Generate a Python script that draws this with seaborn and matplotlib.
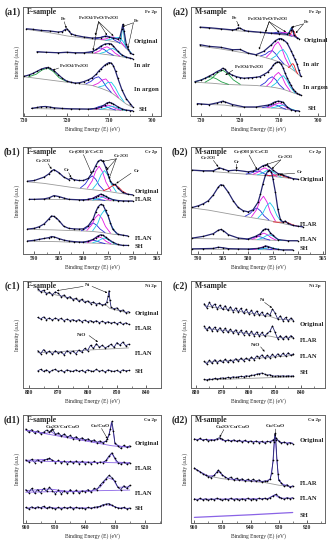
import matplotlib
matplotlib.use("Agg")
import matplotlib.pyplot as plt
import seaborn as sns
from matplotlib.ticker import MultipleLocator

# ------------------------------
# Fe 2p, F-sample (a1)
# ------------------------------
a1_orig_x = [729.5, 728, 726, 724, 722, 721, 720.5, 720, 719.5, 719, 718, 716, 714, 712, 711, 710, 709, 708, 707.5, 707, 706.8, 706.5, 706, 705.5, 705, 704.5]
a1_orig_y = [80, 79.5, 78.5, 78, 77, 77.5, 79, 80, 78, 75.5, 74, 72.5, 71.5, 72, 73, 72.5, 71.5, 70.5, 72, 80, 84, 78, 66, 61, 58, 56.5]
a1_orig_bg_x = [729.5, 725, 722, 720, 717, 714, 712, 710, 708, 707, 706, 705, 704.5]
a1_orig_bg_y = [79.5, 77, 75, 73.5, 72, 70.5, 70, 69, 67.5, 66, 62, 58, 56.5]
a1_orig_pk_x = [[713.5, 712.3, 711.4, 710.5, 709.6, 708.7, 707.5],
                [712, 710.8, 709.9, 709, 708.1, 707.2, 706],
                [710.8, 709.6, 708.7, 707.8, 706.9, 706, 704.8],
                [707.6, 707.2, 707.0, 706.8, 706.6, 706.4, 706.0]]
a1_orig_pk_y = [[70.6, 71.6, 73.0, 73.5, 72.0, 69.5, 67.0],
                [70.2, 70.7, 72.1, 72.5, 70.8, 67.7, 62.2],
                [69.5, 70.4, 71.7, 72, 69.2, 63.7, 57.7],
                [66.5, 70, 77, 83, 77, 69, 62.2]]

a1_air_x = [727, 725, 722, 720, 718, 716, 714, 713, 712, 711, 710, 709.5, 709, 708, 707, 706, 705, 704.5]
a1_air_y = [59, 58.5, 58, 58.5, 58, 58, 59, 61, 64, 66, 66.5, 66, 64, 59.5, 56, 54, 53, 52.5]
a1_air_bg_x = [727, 720, 714, 712, 710, 708, 706, 704.5]
a1_air_bg_y = [58.5, 58, 57.5, 57, 56, 55, 53.5, 52.5]
a1_air_pk_x = [[715, 713.8, 712.9, 712, 711.1, 710.2, 709],
               [713.5, 712.3, 711.4, 710.5, 709.6, 708.7, 707.5],
               [712.2, 711, 710.1, 709.2, 708.3, 707.4, 706.2]]
a1_air_pk_y = [[58.0, 59.3, 61.4, 62.5, 60.8, 58.0, 55.7],
               [57.7, 59.7, 62.3, 63.5, 61.4, 57.9, 54.9],
               [57.3, 58.7, 60.9, 62, 60.1, 56.8, 53.9]]

a1_ar_x = [730, 729, 728, 727, 726, 725, 724.5, 724, 723, 722, 721, 720, 719, 718, 717, 716, 715, 714, 713, 712.5, 712, 711, 710.5, 710, 709.5, 709, 708.5, 708, 707, 706, 705, 704.5]
a1_ar_y = [36.5, 37.5, 39, 41, 43, 44.2, 44.5, 43.8, 41.5, 38, 34.5, 32, 31, 30.2, 30.5, 31.5, 33, 35, 38.5, 41, 43, 46.7, 48, 49, 48.5, 46, 41, 35, 24, 16, 11, 8.5]
a1_ar_bg_x = [730, 727, 724, 721, 718, 716, 714, 712, 710, 709, 708, 707, 706, 705, 704.5]
a1_ar_bg_y = [36, 34.5, 33, 31.5, 30, 29, 28, 25.5, 22.5, 20, 17, 14, 11, 9, 8]
a1_ar_pk_x = [[729, 727.2, 725.85, 724.5, 723.15, 721.8, 720],
              [715.5, 714.3, 713.4, 712.5, 711.6, 710.7, 709.5],
              [713.8, 712.6, 711.7, 710.8, 709.9, 709, 707.8],
              [712.5, 711.3, 710.4, 709.5, 708.6, 707.7, 706.5]]
a1_ar_pk_y = [[35.9, 38.3, 42.1, 44, 40.7, 35.1, 31.6],
              [29.5, 31.7, 34.8, 36, 32.4, 26.9, 21.6],
              [28, 30, 32.9, 34, 30.1, 23.6, 16.8],
              [26.6, 27.8, 30.6, 31, 26.3, 19.5, 12.9]]

a1_sh_x = [728.3, 727, 726, 725, 724, 723, 721, 719, 717, 715, 713, 712, 711, 710.5, 710, 709.5, 709, 708, 707, 706, 705, 704.5]
a1_sh_y = [7, 7.8, 8.5, 8.7, 8.2, 7.5, 6.9, 6.6, 6.5, 6.4, 7, 8.3, 10.5, 12, 12.5, 12, 11, 8.5, 6.5, 5.4, 5, 4.8]
a1_sh_bg_x = [728.3, 720, 714, 711, 708, 705, 704.5]
a1_sh_bg_y = [6.8, 6.3, 6, 5.8, 5.3, 4.8, 4.8]
a1_sh_pk_x = [[714.5, 713.3, 712.4, 711.5, 710.6, 709.7, 708.5],
              [713.3, 712.1, 711.2, 710.3, 709.4, 708.5, 707.3],
              [712.2, 711, 710.1, 709.2, 708.3, 707.4, 706.2]]
a1_sh_pk_y = [[6.1, 7.2, 8.7, 9.5, 8.5, 6.9, 5.5],
              [6.1, 7.4, 9.1, 10, 9.0, 6.9, 5.3],
              [6.0, 7.0, 8.2, 8.8, 7.8, 6.3, 5.1]]

# ------------------------------
# Fe 2p, M-sample (a2)
# ------------------------------
a2_orig_x = [730.3, 728, 725, 722, 721, 720.5, 720, 719, 718, 715, 712, 710, 708, 707.5, 707, 706.8, 706.5, 706.2, 705.5, 705]
a2_orig_y = [81.5, 81, 80, 79, 79.5, 81, 80.5, 78.5, 77.8, 76.9, 76, 75.5, 75, 76.5, 79, 81.5, 78, 74, 71.8, 71]
a2_orig_bg_x = [730.3, 720, 712, 708, 706, 705]
a2_orig_bg_y = [81, 78, 75.5, 74, 72.5, 71]
a2_orig_pk_x = [[712.8, 711.6, 710.7, 709.8, 708.9, 708, 706.8],
                [711.3, 710.1, 709.2, 708.3, 707.4, 706.5, 705.3],
                [707.9, 707.5, 707.2, 706.9, 706.6, 706.3, 705.9],
                [707.5, 707.1, 706.8, 706.5, 706.2, 705.9, 705.5]]
a2_orig_pk_y = [[75.9, 76.1, 76.7, 77, 76.1, 74.8, 73.2],
                [75.4, 75.7, 76.3, 76.6, 75.4, 73.8, 71.5],
                [74.1, 76.2, 79.4, 81, 78.9, 75.3, 72.4],
                [73.8, 75.4, 77.8, 79, 77.2, 74.4, 71.9]]

a2_air_x = [730.3, 728, 725, 722, 720, 718, 716, 714, 712, 711, 710, 709.5, 709, 708, 707, 706.5, 706, 705.5, 705, 704.5]
a2_air_y = [65.4, 63.9, 63, 60.8, 61, 57.7, 56.2, 59.3, 65.4, 69.1, 71, 71, 70, 67, 60, 56, 52, 48, 42, 36.5]
a2_air_bg_x = [730.3, 725, 720, 716, 714, 712, 710, 708, 706, 704.5]
a2_air_bg_y = [64, 61.5, 58.5, 56, 54, 52, 49.5, 46, 41, 36]
a2_air_pk_x = [[714.8, 713.6, 712.7, 711.8, 710.9, 710, 708.8],
               [713.3, 712.1, 711.2, 710.3, 709.4, 708.5, 707.3],
               [712, 710.8, 709.9, 709, 708.1, 707.2, 706],
               [707.7, 707.2, 706.85, 706.5, 706.15, 705.8, 705.3]]
a2_air_pk_y = [[55.1, 56.5, 59, 60, 56.9, 52.4, 47.7],
               [54, 58.4, 65, 68, 62.5, 53.3, 45],
               [52.5, 55.3, 59.5, 61, 56.4, 48.8, 41.5],
               [44.5, 45.4, 47.5, 48, 46, 42.1, 38.7]]

a2_ar_x = [731.6, 730, 729, 728, 727, 726, 725, 724.5, 724, 723, 722, 721, 720, 719, 718, 717, 716, 715, 714, 713, 712, 711.5, 711, 710.5, 710, 709.5, 709, 708.5, 708, 707.5, 707, 706.5, 706, 705.5, 705, 704.5]
a2_ar_y = [31.5, 33, 34.6, 36.5, 38.3, 40.5, 42.3, 43.8, 43, 39.2, 37.5, 36.1, 35.2, 34.6, 35, 35.2, 35.5, 36.1, 38, 40.1, 44, 46.9, 48.5, 49.4, 49.2, 47.5, 44, 39.2, 35, 31.5, 28, 24.7, 22.5, 20.7, 19.8, 19.1]
a2_ar_bg_x = [731.6, 727, 724, 720, 716, 713, 711, 709, 707, 705, 704.5]
a2_ar_bg_y = [31, 30, 29, 28.5, 28, 27, 26, 24.5, 22, 19.5, 19]
a2_ar_pk_x = [[729, 727.2, 725.85, 724.5, 723.15, 721.8, 720],
              [731.6, 730.2, 728.85, 727.5, 726.15, 724.8, 723],
              [714.8, 713.6, 712.7, 711.8, 710.9, 710, 708.8],
              [713.2, 712, 711.1, 710.2, 709.3, 708.4, 707.2],
              [712, 710.8, 709.9, 709, 708.1, 707.2, 706]]
a2_ar_pk_y = [[31, 34.6, 39.5, 42, 38.8, 33.2, 29],
              [31.2, 32.8, 34.9, 36, 34.2, 31.3, 29],
              [28, 30.6, 34.3, 36, 33.3, 28.7, 24.7],
              [27.7, 31.6, 37.2, 40, 36.1, 28.9, 22.8],
              [27, 30.3, 34.7, 37, 33, 26.6, 21.2]]

a2_sh_x = [731, 730, 728, 726, 725, 724.5, 724, 722, 719, 716, 713, 712, 711.5, 711, 710.3, 709.5, 709, 708, 707, 706, 705]
a2_sh_y = [11.4, 11, 10.5, 12, 13, 13.6, 13, 10.5, 8.3, 8.3, 9.9, 11, 12.3, 13, 13.6, 13.2, 12.5, 8.3, 5.9, 4.9, 4.6]
a2_sh_bg_x = [731, 724, 720, 713, 710, 707, 705]
a2_sh_bg_y = [11, 10, 8, 7.5, 7, 5.5, 4.6]
a2_sh_pk_x = [[714.3, 713.1, 712.2, 711.3, 710.4, 709.5, 708.3],
              [713, 711.8, 710.9, 710, 709.1, 708.2, 707],
              [712, 710.8, 709.9, 709, 708.1, 707.2, 706]]
a2_sh_pk_y = [[7.7, 8.6, 9.9, 10.5, 9.6, 7.8, 6.2],
              [7.7, 9.1, 11, 12, 10.4, 7.8, 5.7],
              [7.4, 8.3, 9.6, 10, 8.7, 6.8, 5.2]]

# ------------------------------
# Cr 2p, F-sample (b1)
# ------------------------------
b1_orig_x = [591.4, 590, 588, 587, 586.5, 586, 585, 584, 583, 582.5, 582, 581, 580, 579, 578, 577.5, 577, 576.5, 576, 575.5, 575, 574.5, 574, 573.5, 573, 572, 571, 570]
b1_orig_y = [68, 68.7, 71.9, 75, 77.6, 78.9, 76, 71.9, 69.6, 71, 69.6, 68.7, 68.7, 70.6, 77.6, 82.4, 86.6, 87.9, 86.6, 81.5, 74.4, 68, 65, 65, 61.7, 57.5, 55.9, 55.3]
b1_orig_bg_x = [591.4, 588, 585, 582, 579, 577, 575, 573, 571, 570]
b1_orig_bg_y = [67.5, 66, 64, 62, 60.5, 59.5, 58.5, 57, 55.8, 55.3]
b1_orig_pk_x = [[580.6, 579.6, 578.9, 578.2, 577.5, 576.8, 575.8],
                [579.2, 578.2, 577.5, 576.8, 576.1, 575.4, 574.4],
                [578.1, 577.1, 576.4, 575.7, 575, 574.3, 573.3],
                [575.9, 574.9, 574.2, 573.5, 572.8, 572.1, 571.1]]
b1_orig_pk_y = [[61.8, 65.6, 70.6, 73, 69.9, 64.2, 59.4],
                [61.5, 68.5, 77.4, 82, 76.7, 67.1, 59.1],
                [60.9, 66.6, 74.1, 78, 73.4, 65.1, 58],
                [59.2, 61.1, 63.5, 64.5, 62.3, 58.9, 56.2]]

b1_flar_x = [591, 590, 588, 587, 586, 585, 584, 583, 581, 580, 579, 578, 577.5, 577, 576.5, 576, 575.5, 575, 574, 573, 572, 571, 570]
b1_flar_y = [51.1, 51.1, 51.5, 52.5, 54.6, 53.7, 52.3, 51.1, 50.7, 50.5, 51, 52.1, 53.5, 54.6, 55.9, 55.3, 54, 52.7, 50.8, 50, 49.6, 49.5, 49.5]
b1_flar_bg_x = [591, 585, 580, 576, 572, 570]
b1_flar_bg_y = [51, 51, 50.5, 50, 49.5, 49.5]
b1_flar_pk_x = [[580.4, 579.4, 578.7, 578, 577.3, 576.6, 575.6],
                [579.2, 578.2, 577.5, 576.8, 576.1, 575.4, 574.4],
                [578.1, 577.1, 576.4, 575.7, 575, 574.3, 573.3]]
b1_flar_pk_y = [[50.6, 50.9, 51.7, 52, 51.4, 50.8, 50.1],
                [50.5, 52, 53.6, 54.5, 53.5, 51.6, 50.1],
                [50.4, 51.5, 52.7, 53.5, 52.6, 51.2, 49.9]]

b1_flan_x = [591.4, 590, 589, 588, 587, 586.5, 586, 585.5, 585, 584, 583, 582, 581, 580, 579, 578, 577.5, 577, 576.5, 576, 575.5, 575, 574.5, 574, 573, 572, 571]
b1_flan_y = [23.3, 24, 25.5, 28.1, 32.9, 35.5, 35.1, 33.5, 31.3, 25.9, 24, 23.5, 23.3, 23.5, 26.5, 32.9, 39.3, 44.1, 46.3, 45.7, 40.9, 36, 29, 23, 18.5, 17.6, 16.9]
b1_flan_bg_x = [591.4, 586, 583, 580, 578, 576, 574, 572, 571]
b1_flan_bg_y = [23, 22.5, 22, 21.5, 21, 20, 18.5, 17.5, 16.9]
b1_flan_pk_x = [[580.4, 579.4, 578.7, 578, 577.3, 576.6, 575.6],
                [579.3, 578.3, 577.6, 576.9, 576.2, 575.5, 574.5],
                [578.1, 577.1, 576.4, 575.7, 575, 574.3, 573.3]]
b1_flan_pk_y = [[21.7, 24.2, 27.3, 29, 26.9, 23.3, 20],
                [22, 27.2, 33.7, 37, 33, 25.7, 19.6],
                [21.8, 28.4, 36.7, 41, 35.8, 26.5, 19]]

b1_sh_x = [591.4, 590, 589, 588, 587, 586.5, 586, 585, 584, 583, 582, 581, 580, 579, 578, 577.5, 577, 576.5, 576, 575.5, 575, 574, 573, 572, 571]
b1_sh_y = [12.1, 12.8, 13.7, 14.5, 15.3, 16.3, 16, 14.4, 13, 12.1, 11.6, 11.3, 11.2, 12, 13.7, 15.3, 16.9, 17.9, 17.5, 15.8, 14, 11, 8.9, 8, 8]
b1_sh_bg_x = [591.4, 585, 580, 577, 575, 573, 571]
b1_sh_bg_y = [12, 11.5, 10.5, 10, 9.5, 8.5, 8]
b1_sh_pk_x = [[580.4, 579.4, 578.7, 578, 577.3, 576.6, 575.6],
              [579.2, 578.2, 577.5, 576.8, 576.1, 575.4, 574.4],
              [578.1, 577.1, 576.4, 575.7, 575, 574.3, 573.3]]
b1_sh_pk_y = [[10.7, 11.4, 12.5, 13, 12.1, 10.9, 9.7],
              [10.7, 12.6, 14.8, 16, 14.6, 11.9, 9.5],
              [10.5, 12, 13.8, 15, 13.6, 11.1, 8.9]]

# ------------------------------
# Cr 2p, M-sample (b2)
# ------------------------------
b2_orig_x = [591.2, 589, 587, 586, 585.8, 585, 584, 582.5, 580, 579, 578, 577, 576.5, 576, 575, 574, 573.5, 573, 572, 571, 570]
b2_orig_y = [78.4, 77.8, 77.8, 80, 80.6, 79.4, 77.8, 78.4, 76.8, 77.5, 79.4, 82.5, 83.2, 82.5, 78.4, 75.2, 74.8, 73.7, 72.1, 70.5, 69.8]
b2_orig_bg_x = [591.2, 587, 583, 580, 577, 575, 573, 571, 570]
b2_orig_bg_y = [78, 77, 75.5, 74.5, 73.5, 72.5, 71.5, 70.5, 70]
b2_orig_pk_x = [[580.4, 579.4, 578.7, 578, 577.3, 576.6, 575.6],
                [579, 578, 577.3, 576.6, 575.9, 575.2, 574.2],
                [578.1, 577.1, 576.4, 575.7, 575, 574.3, 573.3],
                [576.2, 575.2, 574.5, 573.8, 573.1, 572.4, 571.4]]
b2_orig_pk_y = [[74.7, 75.7, 77, 77.5, 76.5, 74.7, 72.9],
                [74.5, 76.5, 79.2, 80.5, 78.5, 75.3, 72.4],
                [74, 75.6, 77.6, 78.5, 76.9, 74.2, 71.8],
                [73.2, 73.4, 73.8, 74, 73.1, 72, 70.8]]

b2_flar_x = [591.2, 590, 589, 588, 587, 586, 585.5, 585, 584, 583, 582, 581, 580, 579, 578, 577.5, 577, 576.5, 576, 575.7, 575.3, 575, 574.5, 574, 573.5, 573, 572.5, 572, 571, 570, 569]
b2_flar_y = [43.5, 45.1, 47, 49.8, 55.2, 62.5, 64.8, 64.1, 57.8, 49.8, 43.5, 40.5, 39.4, 41.3, 48.3, 56.2, 65.7, 73.7, 77.5, 78.4, 76.8, 70.5, 57.8, 41.9, 32.4, 29.8, 30.8, 28.6, 26.7, 26, 25.4]
b2_flar_bg_x = [591.2, 588, 585, 582, 580, 578, 576, 574, 572, 570, 569]
b2_flar_bg_y = [43, 41, 38.5, 36, 34.5, 33, 31.5, 29.5, 27.5, 26, 25.4]
b2_flar_pk_x = [[580.6, 579.6, 578.9, 578.2, 577.5, 576.8, 575.8],
                [579.3, 578.3, 577.6, 576.9, 576.2, 575.5, 574.5],
                [578, 577, 576.3, 575.6, 574.9, 574.2, 573.2],
                [574.9, 573.9, 573.2, 572.5, 571.8, 571.1, 570.1]]
b2_flar_pk_y = [[35.3, 37.8, 41.3, 43, 40.3, 35.8, 31.7],
                [34.9, 41.3, 49.7, 54, 48.7, 39.1, 30.9],
                [33.7, 38.5, 44.9, 48, 43.6, 36, 29.4],
                [30, 29.7, 29.8, 30, 28.9, 27.4, 26.1]]

b2_flan_x = [591.2, 589, 587, 586, 585.5, 585, 584, 582, 580, 578.5, 577.5, 577, 576.5, 576, 575.5, 575, 574, 572, 570]
b2_flan_y = [14.9, 16.5, 19, 22.2, 22.9, 21.9, 18.1, 14.9, 14, 16.5, 19, 22.2, 23.5, 22.9, 19.7, 17.5, 13.5, 12.4, 12.4]
b2_flan_bg_x = [591.2, 585, 580, 576, 573, 570]
b2_flan_bg_y = [14.5, 14, 13.5, 13, 12.5, 12.3]
b2_flan_pk_x = [[580.4, 579.4, 578.7, 578, 577.3, 576.6, 575.6],
                [579.2, 578.2, 577.5, 576.8, 576.1, 575.4, 574.4],
                [578.1, 577.1, 576.4, 575.7, 575, 574.3, 573.3]]
b2_flan_pk_y = [[13.6, 14.6, 15.8, 16.5, 15.7, 14.3, 13],
                [13.7, 15.7, 18.2, 19.5, 18, 15.3, 13],
                [13.5, 14.9, 16.9, 18, 16.8, 14.6, 12.7]]

b2_sh_x = [591.2, 589, 587, 586, 585, 584, 582, 580, 578, 577, 576.5, 576, 575, 574, 573, 571]
b2_sh_y = [4.8, 5, 5.2, 6.3, 5.8, 5, 4.8, 4.7, 5.2, 6.3, 7.6, 7, 5.2, 4.3, 3.8, 3.8]
b2_sh_bg_x = [591.2, 580, 576, 571]
b2_sh_bg_y = [4.5, 4.2, 4, 3.8]
b2_sh_pk_x = [[579.9, 578.9, 578.2, 577.5, 576.8, 576.1, 575.1],
              [578.9, 577.9, 577.2, 576.5, 575.8, 575.1, 574.1],
              [578, 577, 576.3, 575.6, 574.9, 574.2, 573.2]]
b2_sh_pk_y = [[4.2, 4.6, 5.2, 5.5, 5.1, 4.6, 4.1],
              [4.2, 5.2, 6.4, 7, 6.3, 5.1, 4],
              [4.2, 4.8, 5.6, 6, 5.5, 4.7, 4]]

# ------------------------------
# Ni 2p (c1, c2)
# ------------------------------
c1_orig_x = [877, 876, 875, 874, 873, 872, 871, 870, 869, 868, 867, 866, 865, 864, 863, 862, 861, 860, 859, 858, 857, 856, 855, 854, 853.5, 853, 852.7, 852.4, 852, 851, 850, 849, 848, 847, 846]
c1_orig_y = [93, 90, 91.5, 88, 89.5, 87, 90, 88.5, 85.5, 87, 84, 85.5, 82.5, 84, 81, 83, 80, 81.5, 79, 80.5, 78, 79.5, 77.5, 78.5, 80, 86, 91, 82, 75.5, 74, 75, 72, 73, 70.5, 71.5]
c1_orig_bg_x = [877, 866, 856, 853.5, 852.5, 846]
c1_orig_bg_y = [91, 84, 78.5, 77, 74.5, 70]
c1_x = [877, 876, 875, 874, 873, 872, 871, 870, 869, 868, 867, 866, 865, 864, 863, 862, 861, 860, 859, 858, 857, 856, 855, 854, 853, 852, 851, 850, 849, 848, 847, 846]
c1_flar_y = [66, 64.5, 66.5, 64, 65.5, 63.5, 65.5, 64, 65, 63, 64.5, 63, 64, 62.5, 64, 62, 63.5, 62, 63, 61.5, 63, 61, 62.5, 61, 62, 60.5, 61.5, 60, 61.5, 59.5, 61, 59.5]
c1_flan_y = [35, 32, 36, 33, 34.5, 31.5, 35, 32.5, 34, 31, 35, 33, 34.5, 32, 35.5, 33.5, 37, 35, 40, 37, 41.5, 38, 40, 37.5, 39, 41, 38, 42.5, 40, 43, 39.5, 41]
c1_flan_bg_x = [877, 846]
c1_flan_bg_y = [33, 37.5]
c1_sh_y = [16, 17.5, 15.5, 17, 15, 16.5, 17.5, 15.5, 16.5, 15, 17, 16, 15.5, 17, 15.5, 16.5, 15, 17, 16, 15.5, 17.5, 15.5, 16.5, 15, 17, 16, 15.5, 16.5, 15, 17, 16, 16.5]

c2_x = [877, 876, 875, 874, 873, 872, 871, 870, 869, 868, 867, 866, 865, 864, 863, 862, 861, 860, 859, 858, 857, 856, 855, 854, 853, 852, 851, 850, 849, 848, 847, 846, 845, 844, 843]
c2_orig_y = [79, 75, 80, 76, 78.5, 74, 77.5, 73.5, 77, 72.5, 76, 71.5, 75, 71, 74.5, 70, 73.5, 69.5, 72.5, 68.5, 72, 68, 71, 67, 70, 68, 74, 70, 64.5, 67.5, 63, 66, 62.5, 65.5, 63]
c2_orig_bg_x = [877, 852, 849, 843]
c2_orig_bg_y = [77, 67, 64.5, 63.5]
c2_flar_y = [58, 54, 57.5, 53.5, 57, 53, 56.5, 52.5, 56, 52, 55, 51.5, 54.5, 50.5, 54, 50, 53.5, 49.5, 53, 49, 52.5, 48.5, 52, 48.5, 51, 53, 58, 52, 46, 49, 45.5, 48.5, 46, 49, 47]
c2_flar_bg_x = [877, 852, 849, 843]
c2_flar_bg_y = [56, 48.5, 47, 47]
c2_flan_y = [25, 22.5, 26, 23, 26.5, 23.5, 26, 24, 27, 24, 26.5, 24.5, 27.5, 25, 28, 25.5, 28, 26, 29, 26.5, 30, 28.5, 31, 28, 30.5, 28.5, 31.5, 29, 32, 29.5, 32.5, 30, 33, 30.5, 32]
c2_flan_bg_x = [877, 843]
c2_flan_bg_y = [24, 30.5]
c2_sh_y = [8, 7.5, 8.5, 8, 9, 8.5, 9, 9.5, 9, 10, 9.5, 10.5, 10, 10.5, 11, 10.5, 11.5, 11, 12, 12, 13, 13.5, 14, 13, 12, 12.5, 11.5, 11, 11.5, 11, 11.5, 11, 11.5, 11, 11.5]
c2_sh_bg_x = [877, 843]
c2_sh_bg_y = [7.5, 10.5]

# ------------------------------
# Cu 2p (d1, d2)
# ------------------------------
d1_orig_x = [960, 959, 958, 957, 956, 955, 954, 953, 952, 951, 950, 949, 948, 947, 946, 945, 944, 943, 942, 941, 940, 939, 938, 937, 936, 935, 934, 933, 932.5, 932, 931.5, 931, 930.5, 930, 929, 928, 927, 926, 925]
d1_orig_y = [87, 84, 86.5, 83, 85.5, 82.5, 84, 86, 84.5, 87, 82, 83.5, 80.5, 82.5, 79.5, 81, 78, 80, 77, 79, 76.5, 78, 75.5, 77, 74.5, 76, 74, 76, 78, 82, 87, 94, 85, 74, 71.5, 69, 72, 70, 71.5]
d1_orig_fit_x = [960, 953, 951.5, 950, 940, 935, 933, 932, 931.2, 930.5, 930, 928, 925]
d1_orig_fit_y = [86, 83, 84.5, 82, 77, 74.5, 75.5, 81, 93, 84, 73, 71, 70.5]
d1_orig_bg_x = [960, 935, 931, 925]
d1_orig_bg_y = [86, 73.5, 71.5, 70]
d1_x = [960, 959, 958, 957, 956, 955, 954, 953, 952, 951, 950, 949, 948, 947, 946, 945, 944, 943, 942, 941, 940, 939, 938, 937, 936, 935, 934, 933, 932, 931, 930, 929, 928, 927, 926, 925]
d1_flar_y = [58.5, 56.5, 59, 56, 58.5, 56.5, 58, 59, 60, 58, 56, 58, 55.5, 57.5, 55, 57, 55.5, 57.5, 55, 57, 55, 56.5, 55, 57, 55.5, 56.5, 56, 58, 62, 65, 60, 56, 54.5, 56.5, 54.5, 56]
d1_flar_fit_x = [960, 952, 950, 935, 933, 931, 929.5, 925]
d1_flar_fit_y = [58, 59, 57, 56, 57, 64.5, 56.5, 55.5]
d1_flar_bg_x = [960, 925]
d1_flar_bg_y = [57.5, 55.5]
d1_flan_y = [31, 28, 32, 27.5, 31, 28, 32, 29.5, 33, 30, 27, 30.5, 27, 30, 27.5, 31, 28, 30.5, 27.5, 30, 29, 31, 28.5, 32, 31, 35, 38, 41, 44, 42, 38.5, 33, 31, 34.5, 32, 35]
d1_flan_fit_x = [960, 952, 945, 938, 935, 932.5, 930.5, 929, 925]
d1_flan_fit_y = [30, 31.5, 29, 29.5, 33, 42, 40, 33, 33.5]
d1_flan_bg_x = [960, 925]
d1_flan_bg_y = [28.5, 30.5]
d1_sh_y = [14.5, 13, 15, 13.5, 15, 14, 15.5, 13.5, 15, 14, 13, 14.5, 13, 14.5, 13.5, 15, 13, 14.5, 13.5, 14, 13, 14.5, 13.5, 14.5, 15, 15.5, 17, 17.5, 18, 16.5, 15, 14, 13.5, 14.5, 13, 14]
d1_sh_fit_x = [960, 936, 933, 931, 929, 925]
d1_sh_fit_y = [14, 14, 17, 16, 14, 13.5]

d2_x = [960, 959, 958, 957, 956, 955, 954, 953, 952, 951, 950, 949, 948, 947, 946, 945, 944, 943, 942, 941, 940, 939, 938, 937, 936, 935, 934, 933, 932, 931, 930, 929, 928, 927, 926, 925]
d2_orig_y = [78, 76.5, 78.5, 76.5, 77.5, 76, 77, 76.5, 78, 79, 77.5, 76, 77, 75.5, 77, 75.5, 76.5, 75, 76.5, 75, 76, 74.5, 76, 74.5, 75.5, 74, 75.5, 75, 77, 79, 76, 74, 75, 73.5, 74.5, 73.5]
d2_orig_fit_x = [960, 952, 951, 950, 935, 932, 931, 929.5, 925]
d2_orig_fit_y = [77.5, 77, 78, 76.5, 75, 76, 78.5, 74.5, 74]
d2_flar_x = [960, 959, 958, 957, 956, 955, 954, 953, 952, 951.5, 951, 950, 949, 948, 947, 946, 945, 944, 943, 942, 941, 940, 939, 938, 937, 936, 935, 934, 933, 932.5, 932, 931.6, 931.3, 931, 930.6, 930.2, 930, 929, 928, 927, 926, 925]
d2_flar_y = [51, 49, 47.5, 45.5, 44, 43, 42, 44, 47, 49, 47.5, 44.5, 42.5, 41, 42.5, 40, 41.5, 39.5, 41, 39, 40.5, 39, 40.5, 38.5, 40, 38, 39, 38.5, 41, 46, 58, 75, 83, 77, 58, 45, 39.5, 37, 34, 35.5, 33, 34.5]
d2_flar_fit_x = [960, 957, 955, 953, 951.6, 950, 948, 945, 940, 935, 933, 932, 931.3, 930.6, 930, 929, 927, 925]
d2_flar_fit_y = [50.5, 46, 43.5, 44, 48.5, 44, 41, 40, 39, 38.5, 40.5, 56, 82, 57, 41, 36.5, 34.5, 33.5]
d2_flar_bg_x = [960, 955, 950, 945, 935, 930, 925]
d2_flar_bg_y = [50, 43.5, 41, 39.5, 37.5, 35, 33.5]
d2_flan_y = [22.5, 21, 23, 21.5, 22.5, 21, 22.5, 21.5, 23, 22, 21, 22.5, 21.5, 23, 21.5, 22.5, 21, 22.5, 21.5, 23, 21.5, 22.5, 21.5, 23, 22, 23, 22, 23.5, 25, 26.5, 24.5, 23, 22, 23.5, 22.5, 23.5]
d2_flan_fit_x = [960, 934, 931.5, 929.5, 925]
d2_flan_fit_y = [22, 22.5, 26, 23, 23]
d2_sh_x = [960, 940, 925]
d2_sh_y = [5.2, 7.6, 9.7]

# ------------------------------
# styling
# ------------------------------
NAVY = "#24246e"
GRAY = "#9a9a9a"
PURPLE = "#8a63e6"
BLUE = "#2a2ad8"
MAG = "#e418e4"
CYAN = "#18c8e8"
GREEN = "#1fa045"
RED = "#e8141e"
TEAL = "#14a0c8"

sns.set_style("ticks")
plt.rcParams["font.family"] = ["Liberation Serif", "DejaVu Serif"]
plt.rcParams["font.weight"] = "bold"
plt.rcParams["mathtext.fontset"] = "custom"
plt.rcParams["mathtext.rm"] = "Liberation Serif:bold"
plt.rcParams["mathtext.it"] = "Liberation Serif:bold"
plt.rcParams["mathtext.bf"] = "Liberation Serif:bold"
plt.rcParams["mathtext.default"] = "rm"


def line(ax, x, y, color, lw):
    sns.lineplot(x=x, y=y, ax=ax, color=color, lw=lw, sort=False, estimator=None)


def spectrum(ax, x, y, bg=None, peaks=None, colors=(), fit=None, lw=0.9, dot=1.3):
    if bg is not None:
        line(ax, bg[0], bg[1], GRAY, 0.6)
    if peaks is not None:
        for px, py, c in zip(peaks[0], peaks[1], colors):
            line(ax, px, py, c, 0.6)
    if fit is not None:
        line(ax, fit[0], fit[1], PURPLE, 0.6)
    line(ax, x, y, NAVY, lw)
    sns.scatterplot(x=x, y=y, ax=ax, color="black", s=dot, linewidth=0, zorder=3)


def note(ax, text, pos, start=None, targets=()):
    ax.text(pos[0], pos[1], text, ha="center", va="center", fontsize=3.8)
    for t in targets:
        ax.annotate("", xy=t, xytext=start,
                    arrowprops=dict(arrowstyle="-|>", color="black", lw=0.35,
                                    mutation_scale=2.5, shrinkA=0, shrinkB=0))


def labels(ax, x, items):
    for txt, y in items:
        ax.text(x, y, txt, ha="left", va="center", fontsize=4.8)


def setup(ax, xlim, major, tag, sample, element):
    ax.set_xlim(*xlim)
    ax.set_ylim(0, 100)
    ax.xaxis.set_major_locator(MultipleLocator(major))
    ax.xaxis.set_minor_locator(MultipleLocator(major / 2))
    ax.set_yticks([])
    ax.tick_params(axis="x", which="major", direction="in", length=2, width=0.5, labelsize=4, pad=1.5)
    ax.tick_params(axis="x", which="minor", direction="in", length=1.2, width=0.4)
    for s in ax.spines.values():
        s.set_color("#666666")
        s.set_linewidth(0.7)
    ax.set_xlabel("Binding Energy (E) (eV)", fontsize=4, labelpad=2)
    ax.set_ylabel("Intensity (a.u.)", fontsize=4, labelpad=2)
    ax.text(0.03, 0.955, sample, transform=ax.transAxes, fontsize=5.5, va="center")
    ax.text(0.97, 0.955, element, transform=ax.transAxes, fontsize=3.6, ha="right", va="center")
    ax.text(-0.02, 0.955, tag, transform=ax.transAxes, fontsize=7, ha="right", va="center")


fig = plt.figure(figsize=(3.33, 5.5), dpi=100)
L = [0.0691, 0.4144]
R = [0.5736, 0.4024]
rows = [(0.7891, 0.1982), (0.5382, 0.1945), (0.2945, 0.1945), (0.0491, 0.1964)]
axs = {}
for name, (b, h) in zip("abcd", rows):
    axs[name + "1"] = fig.add_axes([L[0], b, L[1], h])
    axs[name + "2"] = fig.add_axes([R[0], b, R[1], h])

FE3 = [BLUE, MAG, CYAN]
FE_OX = r"Fe$_3$O$_4$/FeO/Fe$_2$O$_3$"
FE_OX2 = r"Fe$_3$O$_4$/Fe$_2$O$_3$"
CR_OX = r"Cr$_2$O$_3$"
CR_OH = r"Cr(OH)$_3$/CrCl$_3$"
CU_OX = r"Cu$_2$O/Cu/CuO"

# ------------------------------
# (a1)
# ------------------------------
ax = axs["a1"]
spectrum(ax, a1_orig_x, a1_orig_y, (a1_orig_bg_x, a1_orig_bg_y), (a1_orig_pk_x, a1_orig_pk_y), FE3 + [TEAL])
spectrum(ax, a1_air_x, a1_air_y, (a1_air_bg_x, a1_air_bg_y), (a1_air_pk_x, a1_air_pk_y), FE3)
spectrum(ax, a1_ar_x, a1_ar_y, (a1_ar_bg_x, a1_ar_bg_y), (a1_ar_pk_x, a1_ar_pk_y), [GREEN] + FE3)
spectrum(ax, a1_sh_x, a1_sh_y, (a1_sh_bg_x, a1_sh_bg_y), (a1_sh_pk_x, a1_sh_pk_y), FE3)
setup(ax, (730.3, 697.8), 10, "(a1)", "F-sample", "Fe 2p")
labels(ax, 704.2, [("Original", 68), ("In air", 46.7), ("In argon", 24.4)])
labels(ax, 703.1, [("SH", 5.5)])
note(ax, "Fe", (720.8, 89), (720.6, 86.5), [(720.1, 80.5)])
note(ax, FE_OX, (712.5, 89.5), (712.5, 86.5), [(713.3, 74), (710.5, 74), (709, 73.5), (713.8, 60)])
note(ax, "Fe", (703.5, 87.5), (704.3, 85.5), [(706.9, 82), (705.6, 62)])
note(ax, FE_OX2, (718.3, 45.5), (721.9, 44), [(723.3, 42)])

# ------------------------------
# (a2)
# ------------------------------
ax = axs["a2"]
spectrum(ax, a2_orig_x, a2_orig_y, (a2_orig_bg_x, a2_orig_bg_y), (a2_orig_pk_x, a2_orig_pk_y), [BLUE, MAG, CYAN, RED])
spectrum(ax, a2_air_x, a2_air_y, (a2_air_bg_x, a2_air_bg_y), (a2_air_pk_x, a2_air_pk_y), FE3 + [RED])
spectrum(ax, a2_ar_x, a2_ar_y, (a2_ar_bg_x, a2_ar_bg_y), (a2_ar_pk_x, a2_ar_pk_y), [GREEN, GREEN] + FE3)
spectrum(ax, a2_sh_x, a2_sh_y, (a2_sh_bg_x, a2_sh_bg_y), (a2_sh_pk_x, a2_sh_pk_y), FE3)
setup(ax, (732.6, 698.3), 10, "(a2)", "M-sample", "Fe 2p")
labels(ax, 703.9, [("Original", 69.1), ("In air", 47.5), ("In argon", 25.9)])
labels(ax, 702.7, [("SH", 6.8)])
note(ax, "Fe", (721.3, 89.5), (720.9, 87), [(720.3, 82)])
note(ax, FE_OX, (713, 89), (712.6, 86.5), [(713.5, 77), (710, 76.5), (708.3, 77), (715.2, 61)])
note(ax, "Fe", (703, 86.5), (703.8, 84.5), [(706.8, 81.5), (705.8, 76)])
note(ax, FE_OX2, (717.8, 44.5), (721.9, 42), [(723.8, 37.5)])

# ------------------------------
# (b1)
# ------------------------------
ax = axs["b1"]
spectrum(ax, b1_orig_x, b1_orig_y, (b1_orig_bg_x, b1_orig_bg_y), (b1_orig_pk_x, b1_orig_pk_y), FE3 + [RED])
spectrum(ax, b1_flar_x, b1_flar_y, (b1_flar_bg_x, b1_flar_bg_y), (b1_flar_pk_x, b1_flar_pk_y), FE3)
spectrum(ax, b1_flan_x, b1_flan_y, (b1_flan_bg_x, b1_flan_bg_y), (b1_flan_pk_x, b1_flan_pk_y), FE3)
spectrum(ax, b1_sh_x, b1_sh_y, (b1_sh_bg_x, b1_sh_bg_y), (b1_sh_pk_x, b1_sh_pk_y), FE3)
setup(ax, (592.3, 564.2), 5, "(b1)", "F-sample", "Cr 2p")
labels(ax, 569.6, [("Original", 58.5), ("FLAR", 51.1), ("FLAN", 14.4), ("SH", 6.7)])
note(ax, CR_OX, (588.2, 86.6), (587.2, 84.5), [(586.5, 79.5)])
note(ax, "Cr", (583.3, 78.3), (583, 76), [(582.5, 71.5)])
note(ax, CR_OH, (579.5, 95.5), (580, 93), [(578.3, 75)])
note(ax, CR_OX, (572.3, 91.2), (573.3, 89), [(576.2, 86.5), (575.3, 78.5), (574.8, 70)])
note(ax, "Cr", (569.2, 77.5), (570.3, 75.5), [(573.3, 66)])

# ------------------------------
# (b2)
# ------------------------------
ax = axs["b2"]
spectrum(ax, b2_orig_x, b2_orig_y, (b2_orig_bg_x, b2_orig_bg_y), (b2_orig_pk_x, b2_orig_pk_y), FE3 + [RED])
spectrum(ax, b2_flar_x, b2_flar_y, (b2_flar_bg_x, b2_flar_bg_y), (b2_flar_pk_x, b2_flar_pk_y), FE3 + [RED])
spectrum(ax, b2_flan_x, b2_flan_y, (b2_flan_bg_x, b2_flan_bg_y), (b2_flan_pk_x, b2_flan_pk_y), FE3)
spectrum(ax, b2_sh_x, b2_sh_y, (b2_sh_bg_x, b2_sh_bg_y), (b2_sh_pk_x, b2_sh_pk_y), FE3)
setup(ax, (591.5, 564.5), 5, "(b2)", "M-sample", "Cr 2p")
labels(ax, 569.6, [("Original", 69.8), ("FLAR", 27.6), ("FLAN", 13.3), ("SH", 5.4)])
note(ax, CR_OX, (588, 89.5), (587, 87.5), [(586, 81.5)])
note(ax, "Cr", (582.3, 86), (582.3, 84), [(582.3, 79)])
note(ax, CR_OH, (579.3, 95), (579.8, 92.5), [(578.2, 79)])
note(ax, CR_OX, (572.5, 90.5), (573.4, 88), [(576.4, 83.5), (575.2, 79.5)])
note(ax, "Cr", (569.5, 77), (570.6, 75.5), [(573.5, 74.5)])

# ------------------------------
# (c1)
# ------------------------------
ax = axs["c1"]
spectrum(ax, c1_orig_x, c1_orig_y, (c1_orig_bg_x, c1_orig_bg_y), lw=0.6, dot=1.5)
spectrum(ax, c1_x, c1_flar_y, lw=0.6, dot=1.5)
spectrum(ax, c1_x, c1_flan_y, (c1_flan_bg_x, c1_flan_bg_y), lw=0.6, dot=1.5)
spectrum(ax, c1_x, c1_sh_y, lw=0.6, dot=1.5)
setup(ax, (882, 835), 10, "(c1)", "F-sample", "Ni 2p")
labels(ax, 843.9, [("Original", 69.4), ("FLAR", 55.5), ("FLAN", 32.3), ("SH", 15.5)])
ax.text(860, 96, "Ni", ha="center", va="center", fontsize=3.8)
note(ax, "", (860, 96), (861.5, 95), [(870.5, 91)])
note(ax, "", (860, 96), (858.5, 95), [(853.3, 89)])
note(ax, "NiO", (862, 50), (859.5, 49), [(856.5, 43)])

# ------------------------------
# (c2)
# ------------------------------
ax = axs["c2"]
spectrum(ax, c2_x, c2_orig_y, (c2_orig_bg_x, c2_orig_bg_y), lw=0.6, dot=1.5)
spectrum(ax, c2_x, c2_flar_y, (c2_flar_bg_x, c2_flar_bg_y), lw=0.6, dot=1.5)
spectrum(ax, c2_x, c2_flan_y, (c2_flan_bg_x, c2_flan_bg_y), lw=0.6, dot=1.5)
spectrum(ax, c2_x, c2_sh_y, (c2_sh_bg_x, c2_sh_bg_y), lw=0.6, dot=1.5)
setup(ax, (882, 831), 10, "(c2)", "M-sample", "Ni 2p")
labels(ax, 840.6, [("Original", 59.1), ("FLAR", 44.7), ("FLAN", 29.4), ("SH", 14.4)])
note(ax, "Ni", (854.8, 82.5), (854, 80), [(851.2, 75)])
note(ax, "NiO", (857.5, 40), (855.5, 38.5), [(854, 34)])

# ------------------------------
# (d1)
# ------------------------------
ax = axs["d1"]
spectrum(ax, d1_orig_x, d1_orig_y, fit=(d1_orig_fit_x, d1_orig_fit_y), lw=0.6, dot=1.5)
line(ax, d1_orig_bg_x, d1_orig_bg_y, PURPLE, 0.6)
spectrum(ax, d1_x, d1_flar_y, fit=(d1_flar_fit_x, d1_flar_fit_y), lw=0.6, dot=1.5)
line(ax, d1_flar_bg_x, d1_flar_bg_y, PURPLE, 0.6)
spectrum(ax, d1_x, d1_flan_y, fit=(d1_flan_fit_x, d1_flan_fit_y), lw=0.6, dot=1.5)
line(ax, d1_flan_bg_x, d1_flan_bg_y, PURPLE, 0.6)
spectrum(ax, d1_x, d1_sh_y, fit=(d1_sh_fit_x, d1_sh_fit_y), lw=0.6, dot=1.5)
setup(ax, (960.9, 914.5), 10, "(d1)", "F-sample", "Cu 2p")
labels(ax, 923.3, [("Original", 73.4), ("FLAR", 50.6), ("FLAN", 26.9), ("SH", 13)])
note(ax, CU_OX, (947.5, 89), (950.3, 87), [(951.8, 84.5)])
note(ax, "Cu/CuO", (935, 89.5), (934.5, 87.5), [(932.5, 78)])

# ------------------------------
# (d2)
# ------------------------------
ax = axs["d2"]
spectrum(ax, d2_x, d2_orig_y, fit=(d2_orig_fit_x, d2_orig_fit_y), lw=0.6, dot=1.5)
spectrum(ax, d2_flar_x, d2_flar_y, (d2_flar_bg_x, d2_flar_bg_y), fit=(d2_flar_fit_x, d2_flar_fit_y), lw=0.6, dot=1.5)
spectrum(ax, d2_x, d2_flan_y, fit=(d2_flan_fit_x, d2_flan_fit_y), lw=0.6, dot=1.5)
line(ax, d2_sh_x, d2_sh_y, PURPLE, 0.9)
setup(ax, (961.2, 913.5), 10, "(d2)", "M-sample", "Cu 2p")
labels(ax, 922.4, [("Original", 76.8), ("FLAR", 36.5), ("FLAN", 22.6), ("SH", 6.5)])
note(ax, CU_OX, (946.5, 88.5), (949.5, 86.5), [(951, 79.5)])
note(ax, "Cu/CuO", (931.2, 89.5), (931.2, 87), [(931.2, 80)])

fig.savefig("out.png", dpi=100)
